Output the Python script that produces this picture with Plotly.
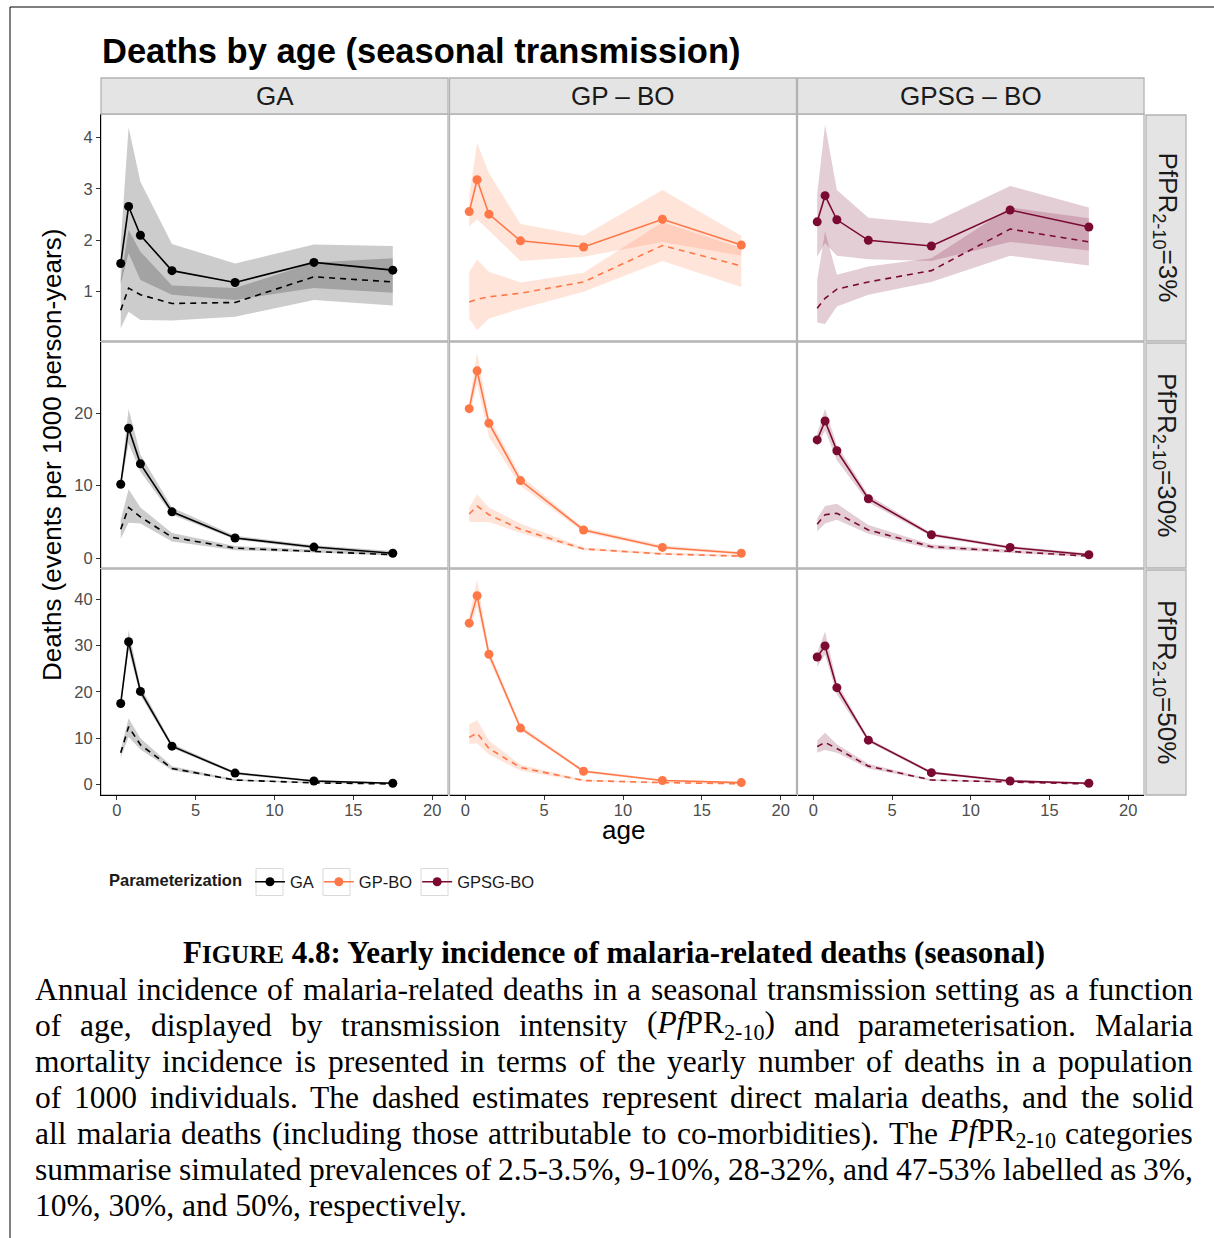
import re
import plotly.graph_objects as go

# ---------------- data ----------------
AGES = [0.25, 0.75, 1.5, 3.5, 7.5, 12.5, 17.5]
PARAMS = ["GA", "GP-BO", "GPSG-BO"]
STRIP_TOP = ["GA", "GP – BO", "GPSG – BO"]
PREV = ["3%", "30%", "50%"]
X_TICKS = [0, 5, 10, 15, 20]
Y_TICKS_3 = [1, 2, 3, 4]
Y_TICKS_30 = [0, 10, 20]
Y_TICKS_50 = [0, 10, 20, 30, 40]

# PfPR 3%
GA_3_ALL = [1.55, 2.66, 2.10, 1.41, 1.18, 1.57, 1.42]
GA_3_ALL_HI = [1.95, 4.20, 3.14, 1.93, 1.55, 1.92, 1.89]
GA_3_ALL_LO = [1.15, 1.75, 1.23, 0.94, 0.84, 1.07, 0.98]
GA_3_DIR = [0.64, 1.07, 0.94, 0.77, 0.79, 1.29, 1.19]
GA_3_DIR_HI = [1.25, 2.20, 1.78, 1.12, 1.07, 1.57, 1.65]
GA_3_DIR_LO = [0.29, 0.61, 0.45, 0.44, 0.51, 0.84, 0.73]

GP_3_ALL = [2.56, 3.18, 2.51, 1.99, 1.87, 2.41, 1.91]
GP_3_ALL_HI = [2.85, 3.90, 3.31, 2.32, 2.09, 2.98, 2.09]
GP_3_ALL_LO = [2.27, 2.41, 2.20, 1.60, 1.68, 1.97, 1.70]
GP_3_DIR = [0.80, 0.85, 0.90, 0.97, 1.19, 1.90, 1.50]
GP_3_DIR_HI = [1.39, 1.62, 1.39, 1.18, 1.37, 2.35, 1.85]
GP_3_DIR_LO = [0.48, 0.25, 0.48, 0.67, 1.00, 1.60, 1.09]

GS_3_ALL = [2.36, 2.87, 2.40, 2.00, 1.89, 2.59, 2.26]
GS_3_ALL_HI = [2.90, 4.25, 2.98, 2.44, 2.33, 3.06, 2.64]
GS_3_ALL_LO = [1.68, 1.95, 1.70, 1.63, 1.60, 1.97, 1.80]
GS_3_DIR = [0.68, 0.87, 1.05, 1.19, 1.41, 2.22, 1.97]
GS_3_DIR_HI = [1.23, 2.17, 1.33, 1.49, 1.65, 2.64, 2.43]
GS_3_DIR_LO = [0.40, 0.37, 0.71, 0.94, 1.19, 1.70, 1.51]

# PfPR 30%
GA_30_ALL = [10.2, 17.9, 13.0, 6.4, 2.8, 1.55, 0.7]
GA_30_ALL_HI = [10.7, 20.6, 14.3, 7.0, 3.1, 1.8, 1.0]
GA_30_ALL_LO = [9.7, 15.8, 11.9, 6.0, 2.6, 1.3, 0.5]
GA_30_DIR = [4.0, 7.0, 5.7, 2.9, 1.4, 1.0, 0.5]
GA_30_DIR_HI = [5.3, 9.5, 7.0, 3.5, 1.7, 1.2, 0.7]
GA_30_DIR_LO = [2.7, 4.9, 4.8, 2.3, 1.1, 0.8, 0.35]

GP_30_ALL = [20.6, 25.8, 18.6, 10.7, 3.9, 1.5, 0.7]
GP_30_ALL_HI = [21.5, 28.3, 19.5, 11.4, 4.2, 1.8, 0.9]
GP_30_ALL_LO = [19.6, 24.0, 16.7, 10.0, 3.6, 1.3, 0.5]
GP_30_DIR = [6.1, 7.2, 6.0, 4.0, 1.3, 0.6, 0.3]
GP_30_DIR_HI = [7.0, 8.8, 7.0, 4.8, 1.5, 0.8, 0.5]
GP_30_DIR_LO = [5.0, 5.0, 5.0, 3.5, 1.1, 0.5, 0.2]

GS_30_ALL = [16.3, 18.9, 14.8, 8.2, 3.25, 1.5, 0.5]
GS_30_ALL_HI = [17.2, 20.6, 15.6, 8.7, 3.5, 1.7, 0.7]
GS_30_ALL_LO = [15.4, 17.6, 13.5, 7.7, 3.0, 1.3, 0.35]
GS_30_DIR = [4.7, 6.0, 6.2, 3.9, 1.6, 1.0, 0.3]
GS_30_DIR_HI = [5.5, 7.2, 7.5, 4.6, 1.9, 1.2, 0.5]
GS_30_DIR_LO = [3.7, 4.8, 5.3, 3.4, 1.3, 0.8, 0.2]

# PfPR 50%
GA_50_ALL = [17.5, 30.8, 20.1, 8.3, 2.5, 0.8, 0.3]
GA_50_ALL_HI = [18.0, 33.3, 21.2, 8.8, 2.8, 1.0, 0.45]
GA_50_ALL_LO = [17.0, 29.0, 19.2, 7.9, 2.2, 0.6, 0.2]
GA_50_DIR = [6.9, 12.5, 8.6, 3.5, 1.0, 0.4, 0.15]
GA_50_DIR_HI = [7.5, 14.3, 10.0, 4.0, 1.2, 0.55, 0.25]
GA_50_DIR_LO = [5.8, 10.3, 7.6, 3.1, 0.8, 0.3, 0.08]

GP_50_ALL = [34.8, 40.7, 28.1, 12.2, 2.9, 0.9, 0.45]
GP_50_ALL_HI = [36.2, 44.3, 29.0, 12.8, 3.2, 1.1, 0.6]
GP_50_ALL_LO = [33.0, 38.5, 26.9, 11.7, 2.6, 0.7, 0.3]
GP_50_DIR = [10.2, 11.1, 7.8, 3.7, 0.9, 0.45, 0.2]
GP_50_DIR_HI = [13.0, 13.9, 9.5, 4.3, 1.1, 0.6, 0.3]
GP_50_DIR_LO = [8.8, 8.9, 6.5, 3.0, 0.7, 0.3, 0.1]

GS_50_ALL = [27.5, 29.9, 20.9, 9.6, 2.6, 0.8, 0.3]
GS_50_ALL_HI = [28.5, 33.0, 22.0, 10.0, 2.9, 1.0, 0.45]
GS_50_ALL_LO = [25.4, 28.0, 19.5, 9.2, 2.3, 0.6, 0.2]
GS_50_DIR = [8.2, 9.1, 7.8, 4.0, 1.0, 0.6, 0.15]
GS_50_DIR_HI = [9.5, 11.2, 8.7, 4.5, 1.2, 0.75, 0.25]
GS_50_DIR_LO = [6.9, 7.5, 6.9, 3.5, 0.8, 0.4, 0.08]

CAPTION_TITLE = ("<b>F<span style='font-size:25px'>IGURE</span> 4.8: Yearly incidence of "
                 "malaria-related deaths (seasonal)</b>")
CAPTION_LINES = [
    "Annual incidence of malaria-related deaths in a seasonal transmission setting as a function",
    "of age, displayed by transmission intensity (<i>Pf</i>PR<sub>2-10</sub>) and parameterisation. Malaria",
    "mortality incidence is presented in terms of the yearly number of deaths in a population",
    "of 1000 individuals. The dashed estimates represent direct malaria deaths, and the solid",
    "all malaria deaths (including those attributable to co-morbidities). The <i>Pf</i>PR<sub>2-10</sub> categories",
    "summarise simulated prevalences of 2.5-3.5%, 9-10%, 28-32%, and 47-53% labelled as 3%,",
]
CAPTION_LAST = "10%, 30%, and 50%, respectively."

# ---------------- tables built from arrays ----------------
DATA = {
    ("GA", 0): (GA_3_ALL, GA_3_ALL_LO, GA_3_ALL_HI, GA_3_DIR, GA_3_DIR_LO, GA_3_DIR_HI),
    ("GP-BO", 0): (GP_3_ALL, GP_3_ALL_LO, GP_3_ALL_HI, GP_3_DIR, GP_3_DIR_LO, GP_3_DIR_HI),
    ("GPSG-BO", 0): (GS_3_ALL, GS_3_ALL_LO, GS_3_ALL_HI, GS_3_DIR, GS_3_DIR_LO, GS_3_DIR_HI),
    ("GA", 1): (GA_30_ALL, GA_30_ALL_LO, GA_30_ALL_HI, GA_30_DIR, GA_30_DIR_LO, GA_30_DIR_HI),
    ("GP-BO", 1): (GP_30_ALL, GP_30_ALL_LO, GP_30_ALL_HI, GP_30_DIR, GP_30_DIR_LO, GP_30_DIR_HI),
    ("GPSG-BO", 1): (GS_30_ALL, GS_30_ALL_LO, GS_30_ALL_HI, GS_30_DIR, GS_30_DIR_LO, GS_30_DIR_HI),
    ("GA", 2): (GA_50_ALL, GA_50_ALL_LO, GA_50_ALL_HI, GA_50_DIR, GA_50_DIR_LO, GA_50_DIR_HI),
    ("GP-BO", 2): (GP_50_ALL, GP_50_ALL_LO, GP_50_ALL_HI, GP_50_DIR, GP_50_DIR_LO, GP_50_DIR_HI),
    ("GPSG-BO", 2): (GS_50_ALL, GS_50_ALL_LO, GS_50_ALL_HI, GS_50_DIR, GS_50_DIR_LO, GS_50_DIR_HI),
}
Y_TICKS = [Y_TICKS_3, Y_TICKS_30, Y_TICKS_50]

# ---------------- styling ----------------
W, H = 1214, 1238
SANS = "Liberation Sans, Arial, sans-serif"
SERIF = "Liberation Serif, Times New Roman, serif"
COLORS = {"GA": (0, 0, 0), "GP-BO": (255, 119, 71), "GPSG-BO": (122, 10, 50)}
BAND_ALPHA = 0.2
COL_PX = [(101, 448), (449.5, 796.5), (797.5, 1144)]
ROW_PX = [(114, 341), (342, 568), (569, 795)]
Y_RANGES = [[0.04, 4.46], [-1.33, 29.77], [-2.22, 46.47]]
X_RANGE = [-1, 21]
LEGEND_KEYS_PX = [256, 323, 421]
TICK_SIZE = 16.5


def px(x):
    return x / W


def py(y):
    return 1 - y / H


def rgb(c, a=None):
    if a is None:
        return "rgb(%d,%d,%d)" % c
    return "rgba(%d,%d,%d,%.3f)" % (c[0], c[1], c[2], a)


fig = go.Figure()
layout = {}
shapes = []
annotations = []

for r in range(3):
    for c in range(3):
        i = r * 3 + c + 1
        sfx = "" if i == 1 else str(i)
        xa, ya = "x" + sfx, "y" + sfx
        param = PARAMS[c]
        col = COLORS[param]
        all_m, all_lo, all_hi, dir_m, dir_lo, dir_hi = DATA[(param, r)]
        for hi, lo in ((all_hi, all_lo), (dir_hi, dir_lo)):
            fig.add_trace(go.Scatter(
                x=AGES + AGES[::-1], y=hi + lo[::-1], fill="toself",
                fillcolor=rgb(col, BAND_ALPHA), line=dict(width=0), mode="lines",
                hoverinfo="skip", showlegend=False, xaxis=xa, yaxis=ya))
        fig.add_trace(go.Scatter(
            x=AGES, y=dir_m, mode="lines", line=dict(color=rgb(col), width=1.6, dash="6px,5px"),
            showlegend=False, legendgroup=param, xaxis=xa, yaxis=ya))
        fig.add_trace(go.Scatter(
            x=AGES, y=all_m, mode="lines+markers", name=param, legendgroup=param,
            line=dict(color=rgb(col), width=1.6), marker=dict(color=rgb(col), size=9),
            showlegend=(r == 0), xaxis=xa, yaxis=ya))

        c0, c1 = COL_PX[c]
        r0, r1 = ROW_PX[r]
        layout["xaxis" + sfx] = dict(
            domain=[px(c0), px(c1)], anchor=ya, range=X_RANGE, showgrid=False, zeroline=False,
            tickvals=X_TICKS, showticklabels=(r == 2), ticks="outside" if r == 2 else "",
            ticklen=4, tickwidth=1, tickcolor="#333333", showline=(r == 2),
            linecolor="black", linewidth=1.2, ticklabelstandoff=-4,
            tickfont=dict(family=SANS, size=TICK_SIZE, color="#4D4D4D"))
        layout["yaxis" + sfx] = dict(
            domain=[py(r1), py(r0)], anchor=xa, range=Y_RANGES[r], showgrid=False, zeroline=False,
            tickvals=Y_TICKS[r], showticklabels=(c == 0), ticks="outside" if c == 0 else "",
            ticklen=4, tickwidth=1, tickcolor="#333333", showline=(c == 0),
            linecolor="black", linewidth=1.2,
            tickfont=dict(family=SANS, size=TICK_SIZE, color="#4D4D4D"))
        shapes.append(dict(type="rect", xref="paper", yref="paper", x0=px(c0), x1=px(c1),
                           y0=py(r1), y1=py(r0), line=dict(color="#B3B3B3", width=1.3),
                           layer="below"))

# strips
for c in range(3):
    c0, c1 = COL_PX[c]
    shapes.append(dict(type="rect", xref="paper", yref="paper", x0=px(c0), x1=px(c1),
                       y0=py(114), y1=py(78), fillcolor="#E4E4E4",
                       line=dict(color="#B3B3B3", width=1.3)))
    annotations.append(dict(x=px((c0 + c1) / 2), y=py(96), xref="paper", yref="paper",
                            text=STRIP_TOP[c], showarrow=False, xanchor="center", yanchor="middle",
                            font=dict(family=SANS, size=26, color="#1A1A1A")))
for r in range(3):
    r0, r1 = ROW_PX[r]
    shapes.append(dict(type="rect", xref="paper", yref="paper", x0=px(1146), x1=px(1186),
                       y0=py(r1), y1=py(r0 + 1), fillcolor="#E4E4E4",
                       line=dict(color="#B3B3B3", width=1.3)))
    annotations.append(dict(x=px(1166), y=py((r0 + r1) / 2), xref="paper", yref="paper",
                            text="PfPR<sub>2-10</sub>=" + PREV[r], textangle=90, showarrow=False,
                            xanchor="center", yanchor="middle",
                            font=dict(family=SANS, size=26, color="#1A1A1A")))

# legend key boxes
for kx in LEGEND_KEYS_PX:
    shapes.append(dict(type="rect", xref="paper", yref="paper", x0=px(kx), x1=px(kx + 27),
                       y0=py(895.5), y1=py(868.5), line=dict(color="#DADADA", width=1),
                       fillcolor="white", layer="below"))

# page frame lines
shapes.append(dict(type="line", xref="paper", yref="paper", x0=px(10), x1=1, y0=py(7), y1=py(7),
                   line=dict(color="black", width=1)))
shapes.append(dict(type="line", xref="paper", yref="paper", x0=px(10), x1=px(10), y0=py(7), y1=0,
                   line=dict(color="black", width=1)))

# titles
annotations.append(dict(x=px(101), y=py(51), xref="paper", yref="paper", showarrow=False,
                        text="<b>Deaths by age (seasonal transmission)</b>", xanchor="left",
                        yanchor="middle", borderpad=0,
                        font=dict(family=SANS, size=34.5, color="black")))
annotations.append(dict(x=px(52), y=py(455), xref="paper", yref="paper", showarrow=False,
                        text="Deaths (events per 1000 person-years)", textangle=-90,
                        xanchor="center", yanchor="middle",
                        font=dict(family=SANS, size=26, color="black")))
annotations.append(dict(x=px(623), y=py(830), xref="paper", yref="paper", showarrow=False,
                        text="age", xanchor="center", yanchor="middle", borderpad=0,
                        font=dict(family=SANS, size=26, color="black")))

# caption
TW = {' ': 250, '!': 333, '%': 833, '(': 333, ')': 333, ',': 250, '-': 333, '.': 250, ':': 278,
      '=': 564}
for d in "0123456789":
    TW[d] = 500
TW.update({'A': 722, 'B': 667, 'C': 667, 'D': 722, 'E': 611, 'F': 556, 'G': 722, 'H': 722,
           'I': 333, 'J': 389, 'K': 722, 'L': 611, 'M': 889, 'N': 722, 'O': 722, 'P': 556,
           'Q': 722, 'R': 667, 'S': 556, 'T': 611, 'U': 722, 'V': 722, 'W': 944, 'X': 722,
           'Y': 722, 'Z': 611, 'a': 444, 'b': 500, 'c': 444, 'd': 500, 'e': 444, 'f': 333,
           'g': 500, 'h': 500, 'i': 278, 'j': 278, 'k': 500, 'l': 278, 'm': 778, 'n': 500,
           'o': 500, 'p': 500, 'q': 500, 'r': 333, 's': 389, 't': 278, 'u': 500, 'v': 500,
           'w': 722, 'x': 500, 'y': 500, 'z': 444})
CAP_SIZE = 31.5
CAP_LEFT, CAP_RIGHT = 35, 1193
CAP_Y = [989, 1025, 1061, 1097, 1133, 1169]


def word_width(word, size):
    total = 0.0
    for part in re.split(r"(<sub>.*?</sub>)", word):
        if part.startswith("<sub>"):
            inner, scale = part[5:-6], 0.7
        else:
            inner, scale = re.sub(r"</?i>", "", part), 1.0
        total += sum(TW.get(ch, 500) for ch in inner) * scale
    return total * size / 1000.0


def cap_word(x, y, text):
    annotations.append(dict(x=px(x), y=py(y), xref="paper", yref="paper", showarrow=False,
                            text=text, xanchor="left", yanchor="middle", borderpad=0,
                            borderwidth=0, font=dict(family=SERIF, size=CAP_SIZE, color="black")))


for line, yy in zip(CAPTION_LINES, CAP_Y):
    words = line.split(" ")
    widths = [word_width(w, CAP_SIZE) for w in words]
    gap = (CAP_RIGHT - CAP_LEFT - sum(widths)) / (len(words) - 1)
    x = CAP_LEFT
    for w, wd in zip(words, widths):
        cap_word(x, yy, w)
        x += wd + gap
cap_word(CAP_LEFT, 1205, CAPTION_LAST)
annotations.append(dict(x=px(614), y=py(952), xref="paper", yref="paper", showarrow=False,
                        text=CAPTION_TITLE, xanchor="center", yanchor="middle",
                        font=dict(family=SERIF, size=31, color="black")))

layout.update(dict(
    width=W, height=H, margin=dict(l=0, r=0, t=0, b=0), autosize=False,
    paper_bgcolor="white", plot_bgcolor="white",
    shapes=shapes, annotations=annotations,
    legend=dict(orientation="h", x=px(107), xanchor="left", y=py(882), yanchor="middle",
                title=dict(text="<b>Parameterization</b>", font=dict(family=SANS, size=16.5)),
                font=dict(family=SANS, size=16.5, color="#1A1A1A"), itemwidth=30,
                bgcolor="rgba(0,0,0,0)"),
    font=dict(family=SANS),
))
fig.update_layout(**layout)
fig.write_html("out.html")
